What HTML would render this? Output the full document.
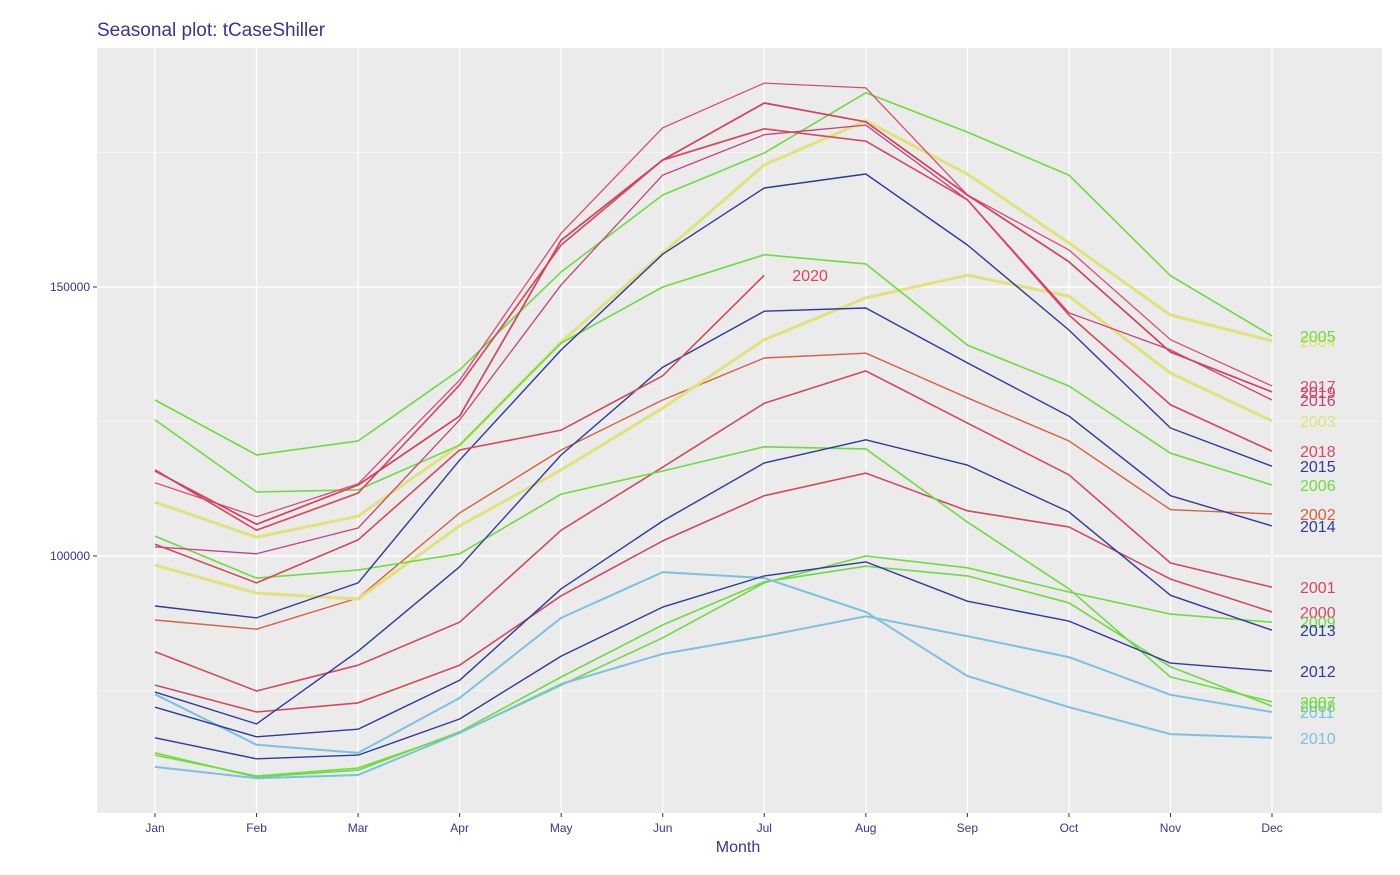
<!DOCTYPE html>
<html><head><meta charset="utf-8"><style>
html,body{margin:0;padding:0;background:#fff;}
svg{display:block;font-family:"Liberation Sans",Arial,sans-serif;}
</style></head><body>
<svg id="chart" width="1400" height="875">
<text x="97" y="36" font-size="19" fill="#3b3395">Seasonal plot: tCaseShiller</text>
<rect x="97" y="48" width="1285" height="765" fill="#ebebeb"/>
<g id="grid"></g><g id="series"></g><g id="axes"></g>
<text x="738" y="852" font-size="16" fill="#3b3395" text-anchor="middle">Month</text>
</svg>
<script>
const months=["Jan","Feb","Mar","Apr","May","Jun","Jul","Aug","Sep","Oct","Nov","Dec"];
const years=["2000","2001","2002","2003","2004","2005","2006","2007","2008","2009","2010","2011","2012","2013","2014","2015","2016","2017","2018","2019","2020"];
const yTicks=[100000,150000];
const yMinor=[75000,125000,175000];
const v2000=[76.0,71.0,72.7,79.7,92.6,102.8,111.2,115.4,108.4,105.4,95.7,89.6];
const v2001=[82.2,74.9,79.7,87.7,104.8,116.5,128.4,134.4,124.7,115.1,98.7,94.2];
const v2002=[88.1,86.4,92.2,108.0,119.7,129.0,136.8,137.7,129.4,121.4,108.6,107.8];
const v2003=[98.3,93.1,92.0,105.6,116.0,127.5,140.2,148.0,152.2,148.3,134.0,125.1];
const v2004=[110.0,103.5,107.4,120.6,139.8,156.3,172.7,180.9,171.0,158.2,144.8,140.0];
const v2005=[129.0,118.8,121.4,134.6,152.8,167.1,174.9,186.1,178.8,170.8,152.1,140.9];
const v2006=[125.3,111.9,112.3,120.6,139.6,150.0,156.0,154.3,139.2,131.6,119.1,113.2];
const v2007=[103.7,95.9,97.4,100.4,111.5,115.8,120.3,119.9,106.3,93.9,77.5,72.9];
const v2008=[63.4,58.9,60.2,67.3,77.5,87.2,95.2,98.1,96.3,91.3,79.4,72.1];
const v2009=[63.0,59.1,60.6,67.1,76.0,84.8,95.0,100.0,97.8,93.3,89.2,87.7];
const v2010=[74.3,64.9,63.4,73.6,88.5,97.0,95.9,89.6,77.7,71.9,66.9,66.2];
const v2011=[60.8,58.7,59.3,67.1,76.2,81.8,85.1,88.8,85.1,81.2,74.2,71.0];
const v2012=[66.2,62.3,63.0,69.7,81.4,90.5,96.3,98.9,91.6,87.9,80.1,78.6];
const v2013=[71.9,66.4,67.8,76.9,93.9,106.5,117.3,121.6,116.9,108.2,92.7,86.2];
const v2014=[74.7,68.8,82.3,98.0,118.8,135.1,145.5,146.1,135.9,126.0,111.2,105.6];
const v2015=[90.7,88.5,95.0,117.8,138.3,156.1,168.4,171.0,157.8,142.0,123.8,116.7];
const v2016=[101.7,100.4,105.2,125.3,150.4,170.8,178.3,180.1,166.2,145.2,138.3,129.0];
const v2017=[113.6,107.3,113.4,132.7,160.0,179.6,187.9,187.0,167.1,156.9,140.2,131.6];
const v2018=[116.0,104.8,111.7,131.8,157.8,173.6,179.4,177.1,166.2,144.8,128.1,119.5];
const v2019=[115.8,105.9,113.2,126.0,158.7,173.6,184.2,180.7,167.1,154.7,137.9,130.5];
const v2020=[102.2,95.0,103.0,119.7,123.4,133.5,152.2];
const values=[v2000,v2001,v2002,v2003,v2004,v2005,v2006,v2007,v2008,v2009,v2010,v2011,v2012,v2013,v2014,v2015,v2016,v2017,v2018,v2019,v2020];

const colors=["#d5485c","#d5485c","#d7603e","#e2e27a","#e2e27a","#6ddc3c","#6ddc3c","#6ddc3c","#6ddc3c","#6ddc3c","#7bc1e0","#7bc1e0","#2d3a9e","#2d3a9e","#2d3a9e","#2d3a9e","#c8407c","#de4a78","#d84a62","#d4405e","#d5485c"];
const widths=[1.6,1.6,1.4,3,3,1.6,1.6,1.6,1.6,1.6,2,2,1.4,1.4,1.4,1.4,1.3,1.3,1.7,1.7,1.6];
const NS="http://www.w3.org/2000/svg";
function xs(i){return 155+i*(1272-155)/11;}
function ys(v){return 556-(v-100000)*269/50000;}
function mk(tag,attrs,parent){const e=document.createElementNS(NS,tag);for(const k in attrs)e.setAttribute(k,attrs[k]);parent.appendChild(e);return e;}
const grid=document.getElementById('grid'),ser=document.getElementById('series'),axes=document.getElementById('axes');
yMinor.forEach(v=>{const l=mk('line',{x1:97,x2:1382,y1:ys(v),y2:ys(v),stroke:'#fff','stroke-width':0.6},grid);

});
for(let i=0;i<11;i++){const x=(xs(i)+xs(i+1))/2;}
yTicks.forEach(v=>{const l=mk('line',{x1:97,x2:1382,y1:ys(v),y2:ys(v),stroke:'#fff','stroke-width':1.3},grid);


const t=mk('text',{x:90,y:ys(v)+4,'font-size':12,fill:'#3b3395','text-anchor':'end'},axes);t.textContent=v;


mk('line',{x1:93,x2:97,y1:ys(v),y2:ys(v),stroke:'#333','stroke-width':1},axes);});
months.forEach((m,i)=>{const l=mk('line',{x1:xs(i),x2:xs(i),y1:48,y2:813,stroke:'#fff','stroke-width':1.3},grid);


mk('line',{x1:xs(i),x2:xs(i),y1:813,y2:817,stroke:'#333','stroke-width':1},axes);
const t=mk('text',{x:xs(i),y:832,'font-size':12,fill:'#3b3395','text-anchor':'middle'},axes);t.textContent=m;

});
years.forEach((yr,k)=>{const vals=values[k];
const pts=vals.map((v,i)=>xs(i).toFixed(1)+','+ys(v*1000).toFixed(1)).join(' ');
const p=mk('polyline',{points:pts,fill:'none',stroke:colors[k],'stroke-width':widths[k],'stroke-linejoin':'round'},ser);


const last=vals.length-1;
const lx=last===11?1300:xs(last)+28;
const t=mk('text',{x:lx,y:ys(vals[last]*1000)+6,'font-size':16,fill:colors[k]},ser);t.textContent=yr;

});
</script>
</body></html>
